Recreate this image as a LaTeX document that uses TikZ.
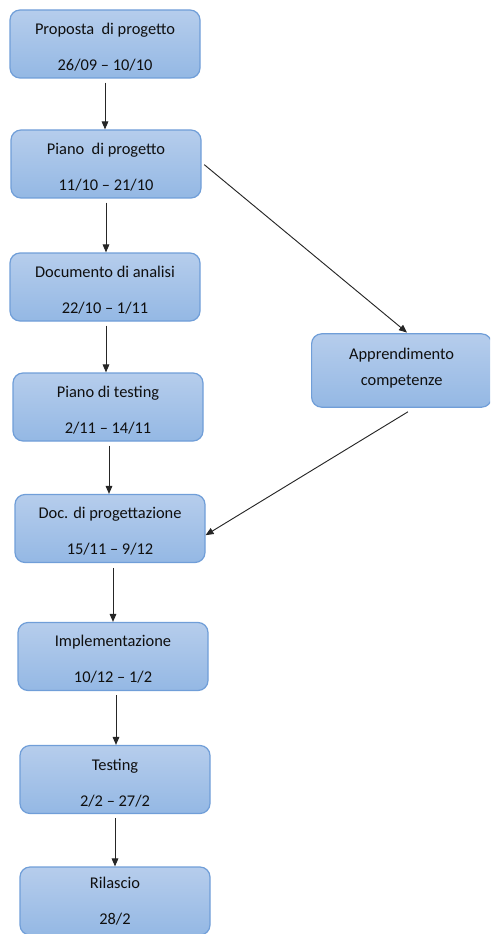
\documentclass[tikz,border=0pt]{standalone}
\usepackage{fontspec}
\setmainfont{Carlito}
\usetikzlibrary{arrows.meta}
\definecolor{boxtop}{RGB}{182,205,236}
\definecolor{boxbot}{RGB}{148,184,228}
\definecolor{boxline}{RGB}{112,158,216}
\definecolor{txt}{RGB}{15,15,15}
\newcommand{\twolines}[3]{\raisebox{#3}[\height][\depth]{\parbox{140pt}{\centering #1\\#2}}}
\tikzset{
  phase/.style={draw=boxline, line width=0.9pt, rounded corners=7.5pt,
    top color=boxtop, bottom color=boxbot, minimum width=142.5pt,
    minimum height=51pt, inner sep=0pt, align=center, text=txt,
    font=\fontsize{12.3pt}{27pt}\selectfont},
  phase2/.style={phase, minimum width=135pt, minimum height=55pt,
    font=\fontsize{12.3pt}{19.5pt}\selectfont},
  conn/.style={draw=black!85, line width=0.7pt, -{Triangle[length=6pt,width=5pt]}}
}
\begin{document}
\begin{tikzpicture}[x=0.75pt,y=-0.75pt]
\useasboundingbox (0,0) rectangle (490,934);
\clip (0,0) rectangle (490,934);
\node[phase] (p1) at (105,44) {\twolines{Proposta~ di progetto}{26/09 – 10/10}{-2.5pt}};
\node[phase] (p2) at (106,164) {\twolines{Piano~ di progetto}{11/10 – 21/10}{-2pt}};
\node[phase] (p3) at (105,287) {\twolines{Documento di analisi}{22/10 – 1/11}{-2pt}};
\node[phase] (p4) at (108,407) {\twolines{Piano di testing}{2/11 – 14/11}{-2.5pt}};
\node[phase] (p5) at (110,528.5) {\twolines{Doc. di progettazione}{15/11 – 9/12}{-2pt}};
\node[phase] (p6) at (113,656.5) {\twolines{Implementazione}{10/12 – 1/2}{-2pt}};
\node[phase] (p7) at (115,779.5) {\twolines{Testing}{2/2 – 27/2}{-2.5pt}};
\node[phase] (p8) at (115,901) {\twolines{Rilascio}{28/2}{0pt}};
\node[phase2, anchor=west] (ap) at (311,370.5) {\raisebox{2pt}[\height][\depth]{\parbox{135pt}{\centering Apprendimento\\competenze}}};
\draw[conn] ([yshift=-3pt]p1.south) -- (p1.south |- p2.north);
\draw[conn] ([yshift=-3pt]p2.south) -- (p2.south |- p3.north);
\draw[conn] ([xshift=0.75pt,yshift=-3pt]p3.south) -- ([xshift=0.75pt]p3.south |- p4.north);
\draw[conn] ([xshift=0.75pt,yshift=-3pt]p4.south) -- ([xshift=0.75pt]p4.south |- p5.north);
\draw[conn] ([xshift=2.25pt,yshift=-3.5pt]p5.south) -- ([xshift=2.25pt]p5.south |- p6.north);
\draw[conn] ([xshift=2.25pt,yshift=-3pt]p6.south) -- ([xshift=2.25pt]p6.south |- p7.north);
\draw[conn] ([yshift=-3pt]p7.south) -- (p7.south |- p8.north);
\draw[conn] ([xshift=2pt,yshift=-0.5pt]p2.east) -- ([xshift=72pt,yshift=0.5pt]ap.north west);
\draw[conn] ([xshift=72.75pt,yshift=-3pt]ap.south west) -- ([yshift=-5pt]p5.east);
\end{tikzpicture}
\end{document}
